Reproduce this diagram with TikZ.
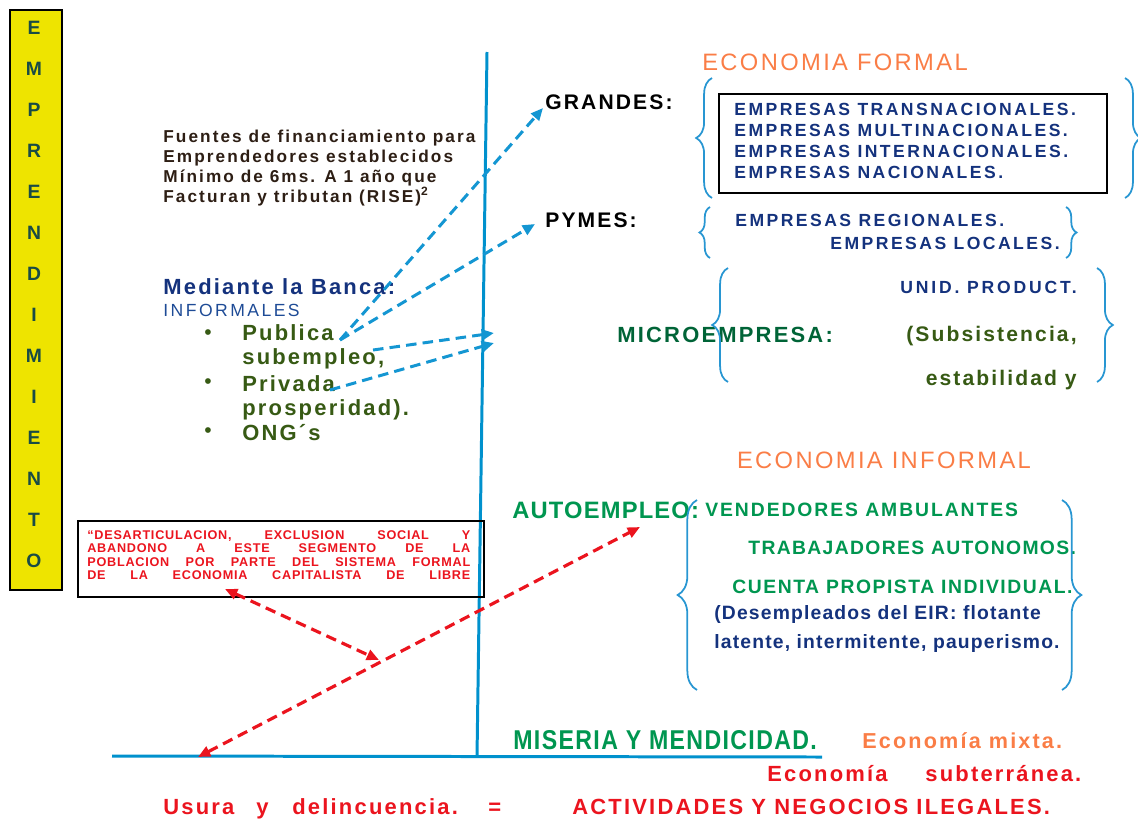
\documentclass[tikz,border=0pt]{standalone}
\usepackage{fontspec}
\setmainfont{Liberation Sans}[LetterSpace=10]
\newfontfamily\narrowfont{Liberation Sans}[FakeStretch=0.85, LetterSpace=5]
\usepackage{tikz}
\usetikzlibrary{positioning,calc,arrows.meta,decorations.pathreplacing}

\definecolor{axisblue}{RGB}{0,145,205}
\definecolor{braceblue}{RGB}{40,150,210}
\definecolor{arrowblue}{RGB}{20,150,210}
\definecolor{colyellow}{RGB}{238,228,0}
\definecolor{colletter}{RGB}{25,75,70}
\definecolor{ecoorange}{RGB}{250,125,70}
\definecolor{ecored}{RGB}{235,20,30}
\definecolor{ecogreen}{RGB}{0,150,80}
\definecolor{darkgreen}{RGB}{0,100,55}
\definecolor{olive}{RGB}{55,90,20}
\definecolor{navy}{RGB}{20,50,125}
\definecolor{infblue}{RGB}{30,75,150}
\definecolor{darktxt}{RGB}{45,30,20}

\tikzset{
  lbl/.style={inner sep=0pt, anchor=west},
  hdr/.style={inner sep=0pt, text=ecoorange, font=\fontsize{13.5}{15}\selectfont},
  bracel/.style={draw=braceblue, line width=1pt, decorate, decoration={brace, amplitude=9pt}},
  bluedash/.style={draw=arrowblue, line width=1.7pt, dash pattern=on 6pt off 3.5pt, -{Triangle[length=7pt,width=6pt]}},
  reddash/.style={draw=ecored, line width=1.8pt, dash pattern=on 6pt off 3.5pt, {Triangle[length=7pt,width=6pt]}-{Triangle[length=7pt,width=6pt]}},
  bottomtxt/.style={inner sep=0pt, anchor=base west, font=\bfseries\fontsize{12.5}{14}\selectfont}
}

\begin{document}
\begin{tikzpicture}[x=0.02cm, y=-0.02cm]
\useasboundingbox (0,0) rectangle (1138,825);

% barra lateral
\node[draw, line width=1.2pt, fill=colyellow, minimum width=1.04cm, minimum height=11.6cm, inner sep=0pt] (barra) at (36,300) {};
\foreach \l [count=\i] in {E,M,P,R,E,N,D,I,M,I,E,N,T,O}
  \node[inner sep=0pt, text=colletter, font=\bfseries\fontsize{11}{13}\selectfont] (let\i) at (34,{28+(\i-1)*41}) {\l};

% ejes
\draw[axisblue, line width=1.7pt] (487,52) -- (477,757);
\draw[axisblue, line width=1.7pt] (112,756) -- (822,757);

% economia formal
\node[hdr] (formal) at (835,62) {ECONOMIA FORMAL};
\node[lbl, font=\bfseries\fontsize{12}{14}\selectfont] (grandes) at (545,102) {GRANDES:};
\node[draw, line width=1pt, anchor=north west, minimum width=7.76cm, minimum height=1.98cm, inner sep=0pt] (gbox) at (718,93) {};
\node[lbl, align=left, text=navy, font=\bfseries\fontsize{10}{11.8}\selectfont\addfontfeatures{LetterSpace=14}] (glist) at (734,141)
  {EMPRESAS TRANSNACIONALES.\\EMPRESAS MULTINACIONALES.\\EMPRESAS INTERNACIONALES.\\EMPRESAS NACIONALES.};
\draw[bracel] (712,198) -- (712,78);
\draw[bracel] (1125,78) -- (1125,198);

\node[lbl, font=\bfseries\fontsize{12}{14}\selectfont] (pymes) at (545,220) {PYMES:};
\node[lbl, text=navy, font=\bfseries\fontsize{10}{12}\selectfont\addfontfeatures{LetterSpace=14}] (reg) at (735,220) {EMPRESAS REGIONALES.};
\node[inner sep=0pt, anchor=east, text=navy, font=\bfseries\fontsize{10}{12}\selectfont\addfontfeatures{LetterSpace=14}] (loc) at (1060,243) {EMPRESAS LOCALES.};
\draw[bracel, decoration={amplitude=6pt}] (710,258) -- (710,207);
\draw[bracel, decoration={amplitude=6pt}] (1066,207) -- (1066,258);

\node[lbl, text=darkgreen, font=\bfseries\fontsize{12.5}{14}\selectfont] (micro) at (617,335) {MICROEMPRESA:};
\node[inner sep=0pt, anchor=east, text=navy, font=\bfseries\fontsize{10}{12}\selectfont\addfontfeatures{LetterSpace=16}] (unid) at (1077,287) {UNID. PRODUCT.};
\node[inner sep=0pt, anchor=east, text=olive, font=\bfseries\fontsize{12}{14}\selectfont] (subs) at (1077,336) {(Subsistencia,};
\node[inner sep=0pt, anchor=east, text=olive, font=\bfseries\fontsize{12}{14}\selectfont] (estab) at (1077,380) {estabilidad y};
\draw[bracel] (728,382) -- (728,268);
\draw[bracel] (1097,268) -- (1097,382);

% fuentes de financiamiento
\node[lbl, align=left, text=darktxt, font=\bfseries\fontsize{9.8}{11.3}\selectfont\addfontfeatures{LetterSpace=12}] (fuentes) at (163,168)
  {Fuentes de financiamiento para\\Emprendedores establecidos\\Mínimo de 6ms. A 1 año que\\Facturan y tributan (RISE)\textsuperscript{2}};
\node[lbl, text=navy, font=\bfseries\fontsize{12.5}{14}\selectfont] (banca) at (163,287) {Mediante la Banca:};
\node[lbl, text=infblue, font=\fontsize{10}{12}\selectfont\addfontfeatures{LetterSpace=14}] (inform) at (163,310) {INFORMALES};
\node[lbl, align=left, text=olive, font=\bfseries\fontsize{12.5}{13.5}\selectfont] (pub) at (242,347) {Publica\\subempleo,};
\node[lbl, align=left, text=olive, font=\bfseries\fontsize{12.5}{13.5}\selectfont] (priv) at (242,398) {Privada\\prosperidad).};
\node[lbl, text=olive, font=\bfseries\fontsize{12.5}{14}\selectfont] (ong) at (242,433) {ONG´s};
\foreach \b/\yb in {b1/335,b2/384,b3/433}
  \node[inner sep=0pt, text=olive, font=\fontsize{12}{14}\selectfont] (\b) at (208,\yb) {\textbullet};

% flechas azules
\coordinate (pubA) at (340,340);
\coordinate (subA) at (373,350);
\coordinate (privA) at (330,390);
\coordinate (micA) at (494,333);
\coordinate (micB) at (494,343);
\draw[bluedash] (pubA) -- ($(grandes.west)+(-2,6)$);
\draw[bluedash] (pubA) -- ($(pymes.west)+(-10,4)$);
\draw[bluedash] (subA) -- (micA);
\draw[bluedash] (privA) -- (micB);

% economia informal
\node[hdr] (informal) at (884,460) {ECONOMIA INFORMAL};
\node[lbl, text=ecogreen, font=\bfseries\fontsize{13.5}{15}\selectfont\addfontfeatures{LetterSpace=5}] (auto) at (512,510) {AUTOEMPLEO:};
\node[lbl, text=ecogreen, font=\bfseries\fontsize{11}{13}\selectfont] (vend) at (705,510) {VENDEDORES AMBULANTES};
\node[lbl, text=ecogreen, font=\bfseries\fontsize{11}{13}\selectfont\addfontfeatures{LetterSpace=7}] (trab) at (748,548) {TRABAJADORES AUTONOMOS.};
\node[lbl, text=ecogreen, font=\bfseries\fontsize{11}{13}\selectfont\addfontfeatures{LetterSpace=8}] (cuenta) at (732,587) {CUENTA PROPISTA INDIVIDUAL.};
\node[lbl, align=left, text=navy, font=\bfseries\fontsize{11}{16}\selectfont\addfontfeatures{LetterSpace=6}] (desemp) at (714,629)
  {(Desempleados del EIR: flotante\\latente, intermitente, pauperismo.};
\draw[bracel, decoration={amplitude=11pt}] (697,690) -- (697,500);
\draw[bracel, decoration={amplitude=11pt}] (1062,500) -- (1062,690);

% recuadro rojo
\node[draw, line width=1pt, anchor=north west, minimum width=8.12cm, minimum height=1.52cm, inner sep=0pt] (rbox) at (77,520) {};
\node[lbl, align=left, text=ecored, font=\bfseries\fontsize{7.2}{7.6}\selectfont\addfontfeatures{LetterSpace=6}] (rtext) at (87,555)
  {\makebox[7.66cm][s]{“DESARTICULACION, EXCLUSION SOCIAL Y}\\
   \makebox[7.66cm][s]{ABANDONO A ESTE SEGMENTO DE LA}\\
   \makebox[7.66cm][s]{POBLACION POR PARTE DEL SISTEMA FORMAL}\\
   \makebox[7.66cm][s]{DE LA ECONOMIA CAPITALISTA DE LIBRE}};

% flechas rojas
\coordinate (rA) at (225,589);
\coordinate (rB) at (379,660);
\coordinate (rC) at (198,757);
\coordinate (rD) at (640,527);
\draw[reddash] (rA) -- (rB);
\draw[reddash] (rC) -- (rD);

% textos inferiores
\node[bottomtxt, text=ecogreen, font=\narrowfont\bfseries\fontsize{15.5}{17}\selectfont] (miseria) at (513,749) {MISERIA Y MENDICIDAD.};
\node[bottomtxt, text=ecoorange, font=\bfseries\fontsize{12.3}{14}\selectfont] (mixta) at (862,748) {Economía mixta.};
\node[bottomtxt, text=ecored] (econ) at (767,781) {Economía};
\node[bottomtxt, text=ecored] (subt) at (925,781) {subterránea.};
\node[bottomtxt, text=ecored] (usura) at (163,814) {Usura};
\node[bottomtxt, text=ecored] (yy) at (256,814) {y};
\node[bottomtxt, text=ecored] (delin) at (292,814) {delincuencia.};
\node[bottomtxt, text=ecored] (igual) at (488,814) {=};
\node[bottomtxt, text=ecored] (ilegal) at (572,814) {ACTIVIDADES Y NEGOCIOS ILEGALES.};
\end{tikzpicture}
\end{document}
